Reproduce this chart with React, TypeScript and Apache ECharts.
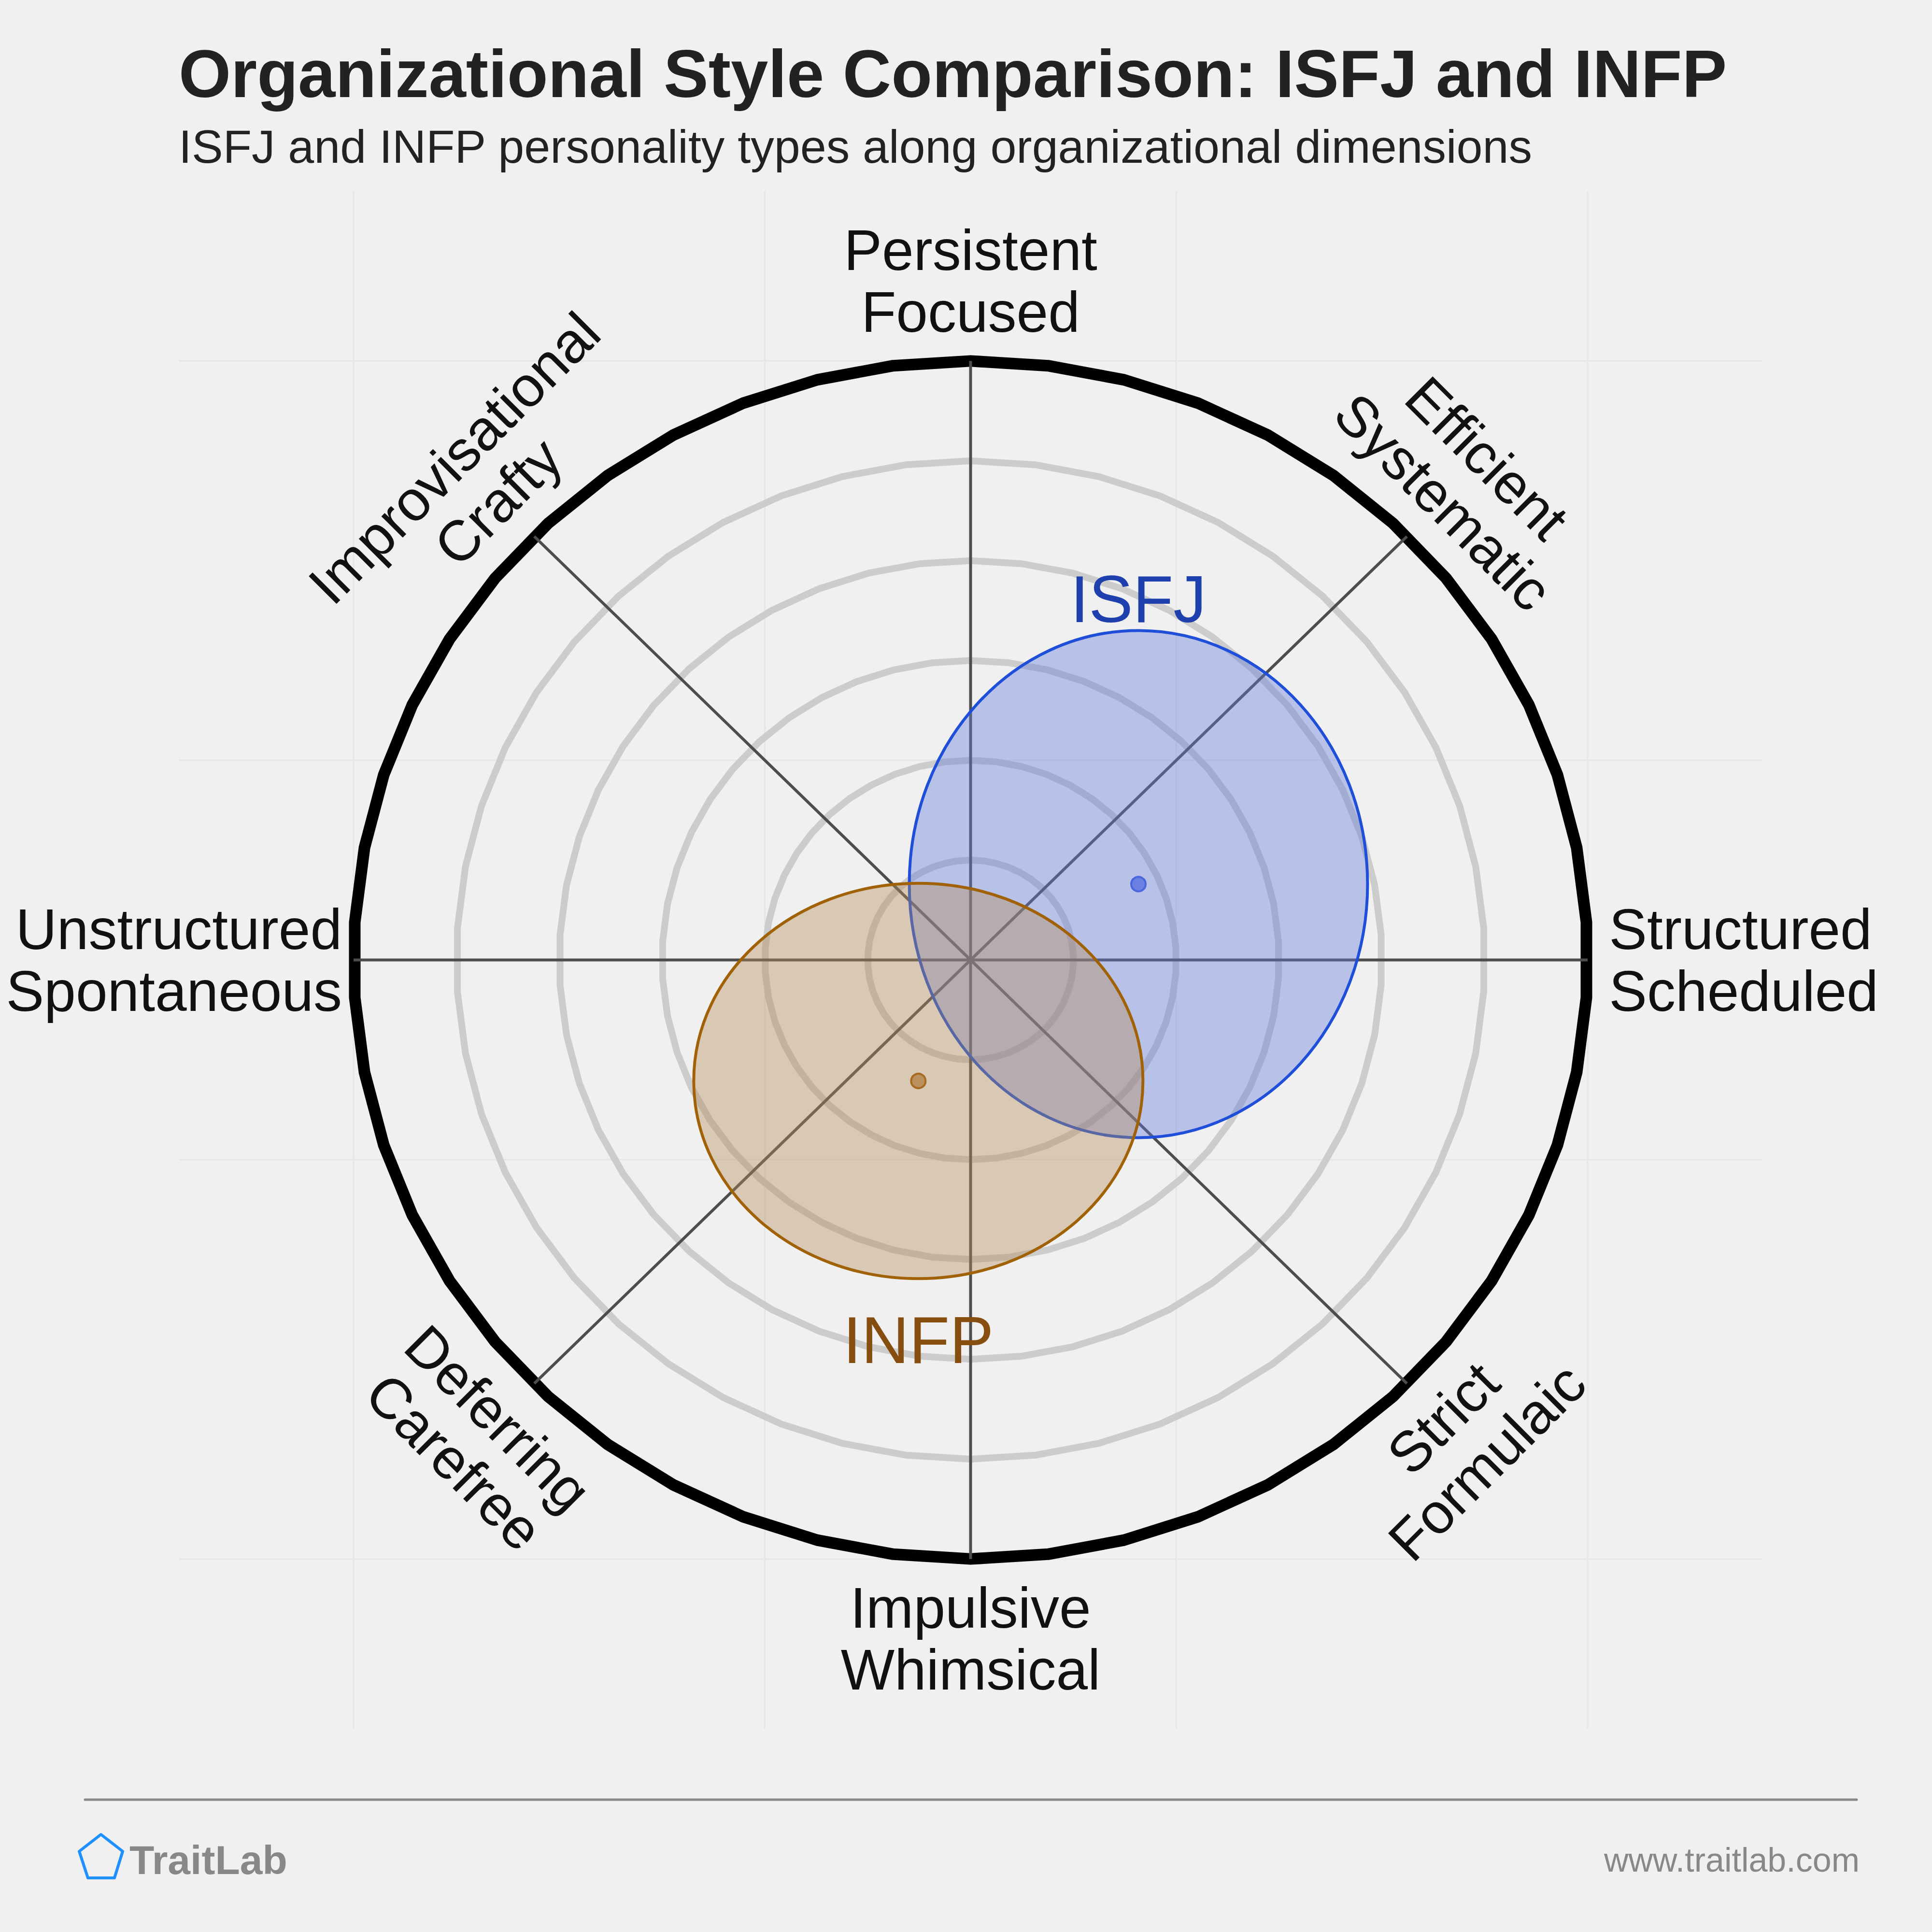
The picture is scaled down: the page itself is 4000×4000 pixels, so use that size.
import React, { useEffect, useRef } from "react";
import * as echarts from "echarts";

// ---- data ----
const axisLabels: string[][] = [
  ["Structured", "Scheduled"],
  ["Efficient", "Systematic"],
  ["Persistent", "Focused"],
  ["Improvisational", "Crafty"],
  ["Unstructured", "Spontaneous"],
  ["Deferring", "Carefree"],
  ["Impulsive", "Whimsical"],
  ["Strict", "Formulaic"],
];
const axisAngles = [0, 45, 90, 135, 180, 225, 270, 315];
const ringRadii = [0.25, 0.5, 0.75, 1.0, 1.25];
const outerRadius = 1.5;
const backgroundTicks = [-1.5, -0.5, 0.5, 1.5];

const typeNames = ["ISFJ", "INFP"];
const typeX = [0.408, -0.127];
const typeY = [0.19, -0.303];
const typeSpreadX = [0.557, 0.546];
const typeSpreadY = [0.635, 0.495];

const AXIS_MIN = -1.925;
const AXIS_MAX = 1.925;

const typeStyles = [
  {
    fill: "rgba(100,125,220,0.4)",
    stroke: "#1f4fd8",
    dot: "rgba(80,105,225,0.75)",
    dotStroke: "#4a66dd",
    label: "#1e40af",
    labelOffset: -65,
  },
  {
    fill: "rgba(180,140,90,0.4)",
    stroke: "#a16207",
    dot: "rgba(175,120,55,0.7)",
    dotStroke: "#a86a20",
    label: "#854d0e",
    labelOffset: 127,
  },
];

const FONT = "'Liberation Sans', Arial, sans-serif";

export default function App() {
  const ref = useRef<HTMLDivElement>(null);

  useEffect(() => {
    if (!ref.current) return;
    const chart = echarts.init(ref.current, null, { renderer: "svg" });
    const segs = 50;

    const option: any = {
      animation: false,
      backgroundColor: "#f0f0f0",
      grid: { left: 370, top: 396, width: 3279, height: 3183 },
      xAxis: { type: "value", min: AXIS_MIN, max: AXIS_MAX, show: false },
      yAxis: { type: "value", min: AXIS_MIN, max: AXIS_MAX, show: false },
      series: [
        {
          type: "custom",
          z: 1,
          silent: true,
          data: backgroundTicks.map((t) => [t]),
          renderItem: (params: any, api: any) => {
            const t = api.value(0);
            const v1 = api.coord([t, AXIS_MIN]);
            const v2 = api.coord([t, AXIS_MAX]);
            const h1 = api.coord([AXIS_MIN, t]);
            const h2 = api.coord([AXIS_MAX, t]);
            const st = { stroke: "#e6e6e6", lineWidth: 3 };
            return {
              type: "group",
              children: [
                { type: "line", shape: { x1: v1[0], y1: v1[1], x2: v2[0], y2: v2[1] }, style: st },
                { type: "line", shape: { x1: h1[0], y1: h1[1], x2: h2[0], y2: h2[1] }, style: st },
              ],
            };
          },
        },
        {
          type: "custom",
          z: 2,
          silent: true,
          data: [...ringRadii, outerRadius].map((r) => [r]),
          renderItem: (params: any, api: any) => {
            const r = api.value(0);
            const pts: number[][] = [];
            for (let k = 0; k < segs; k++) {
              const a = ((3.6 + (360 / segs) * k) * Math.PI) / 180;
              pts.push(api.coord([r * Math.cos(a), r * Math.sin(a)]));
            }
            const outer = r >= outerRadius;
            return {
              type: "polygon",
              shape: { points: pts },
              style: {
                fill: "none",
                stroke: outer ? "#000000" : "#cccccc",
                lineWidth: outer ? 24 : 14,
                lineJoin: "round",
              },
            };
          },
        },
        {
          type: "custom",
          z: 3,
          silent: true,
          data: axisAngles.map((a) => [a]),
          renderItem: (params: any, api: any) => {
            const a = (api.value(0) * Math.PI) / 180;
            const p0 = api.coord([0, 0]);
            const p1 = api.coord([outerRadius * Math.cos(a), outerRadius * Math.sin(a)]);
            return {
              type: "line",
              shape: { x1: p0[0], y1: p0[1], x2: p1[0], y2: p1[1] },
              style: { stroke: "#4d4d4d", lineWidth: 6 },
            };
          },
        },
        {
          type: "custom",
          z: 4,
          silent: true,
          data: typeNames.map((n, i) => [typeX[i], typeY[i], typeSpreadX[i], typeSpreadY[i]]),
          renderItem: (params: any, api: any) => {
            const i = params.dataIndex;
            const c = api.coord([api.value(0), api.value(1)]);
            const s = api.size([api.value(2), api.value(3)]);
            const st = typeStyles[i];
            const edgeY = i === 0 ? c[1] - s[1] : c[1] + s[1];
            return {
              type: "group",
              children: [
                {
                  type: "ellipse",
                  shape: { cx: c[0], cy: c[1], rx: s[0], ry: s[1] },
                  style: { fill: st.fill, stroke: st.stroke, lineWidth: 6 },
                },
                {
                  type: "circle",
                  shape: { cx: c[0], cy: c[1], r: 15 },
                  style: { fill: st.dot, stroke: st.dotStroke, lineWidth: 4 },
                },
                {
                  type: "text",
                  x: c[0],
                  y: edgeY + st.labelOffset,
                  style: {
                    text: typeNames[i],
                    fill: st.label,
                    fontSize: 137,
                    fontFamily: FONT,
                    align: "center",
                    verticalAlign: "middle",
                  },
                },
              ],
            };
          },
        },
        {
          type: "custom",
          z: 5,
          silent: true,
          data: axisAngles.map((a, i) => [a, i]),
          renderItem: (params: any, api: any) => {
            const deg = api.value(0);
            const i = params.dataIndex;
            const a = (deg * Math.PI) / 180;
            let r = 1.7;
            let align = "center";
            let rotation = 0;
            if (deg === 0) {
              r = 1.552;
              align = "left";
            } else if (deg === 180) {
              r = 1.528;
              align = "right";
            } else if (deg % 90 !== 0) {
              rotation = deg === 45 || deg === 225 ? -Math.PI / 4 : Math.PI / 4;
            }
            const p = api.coord([r * Math.cos(a), r * Math.sin(a)]);
            return {
              type: "text",
              x: p[0],
              y: p[1],
              rotation,
              style: {
                text: axisLabels[i].join("\n"),
                fill: "#111111",
                fontSize: 118,
                fontFamily: FONT,
                lineHeight: 128,
                align,
                verticalAlign: "middle",
              },
            };
          },
        },
      ],
      graphic: [
        {
          type: "text",
          x: 370,
          y: 152,
          style: {
            text: "Organizational Style Comparison: ISFJ and INFP",
            fontSize: 139,
            fontWeight: "bold",
            fontFamily: FONT,
            fill: "#222222",
            align: "left",
            verticalAlign: "middle",
          },
        },
        {
          type: "text",
          x: 370,
          y: 303.5,
          style: {
            text: "ISFJ and INFP personality types along organizational dimensions",
            fontSize: 97,
            fontFamily: FONT,
            fill: "#222222",
            align: "left",
            verticalAlign: "middle",
          },
        },
        {
          type: "line",
          shape: { x1: 176, y1: 3726, x2: 3844, y2: 3726 },
          style: { stroke: "#888888", lineWidth: 5, lineCap: "round" },
        },
        {
          type: "polygon",
          shape: {
            points: [
              [209, 3798],
              [164, 3833],
              [182, 3888],
              [237, 3888],
              [254, 3833],
            ],
          },
          style: { fill: "none", stroke: "#1e90ff", lineWidth: 6, lineJoin: "round" },
        },
        {
          type: "text",
          x: 268,
          y: 3851,
          style: {
            text: "TraitLab",
            fontSize: 84,
            fontWeight: "bold",
            fontFamily: FONT,
            fill: "#888888",
            align: "left",
            verticalAlign: "middle",
          },
        },
        {
          type: "text",
          x: 3850,
          y: 3851,
          style: {
            text: "www.traitlab.com",
            fontSize: 70,
            fontFamily: FONT,
            fill: "#888888",
            align: "right",
            verticalAlign: "middle",
          },
        },
      ],
    };

    chart.setOption(option);
    return () => chart.dispose();
  }, []);

  return (
    <div
      ref={ref}
      style={{ position: "absolute", left: 0, top: 0, width: 4000, height: 4000 }}
    />
  );
}
